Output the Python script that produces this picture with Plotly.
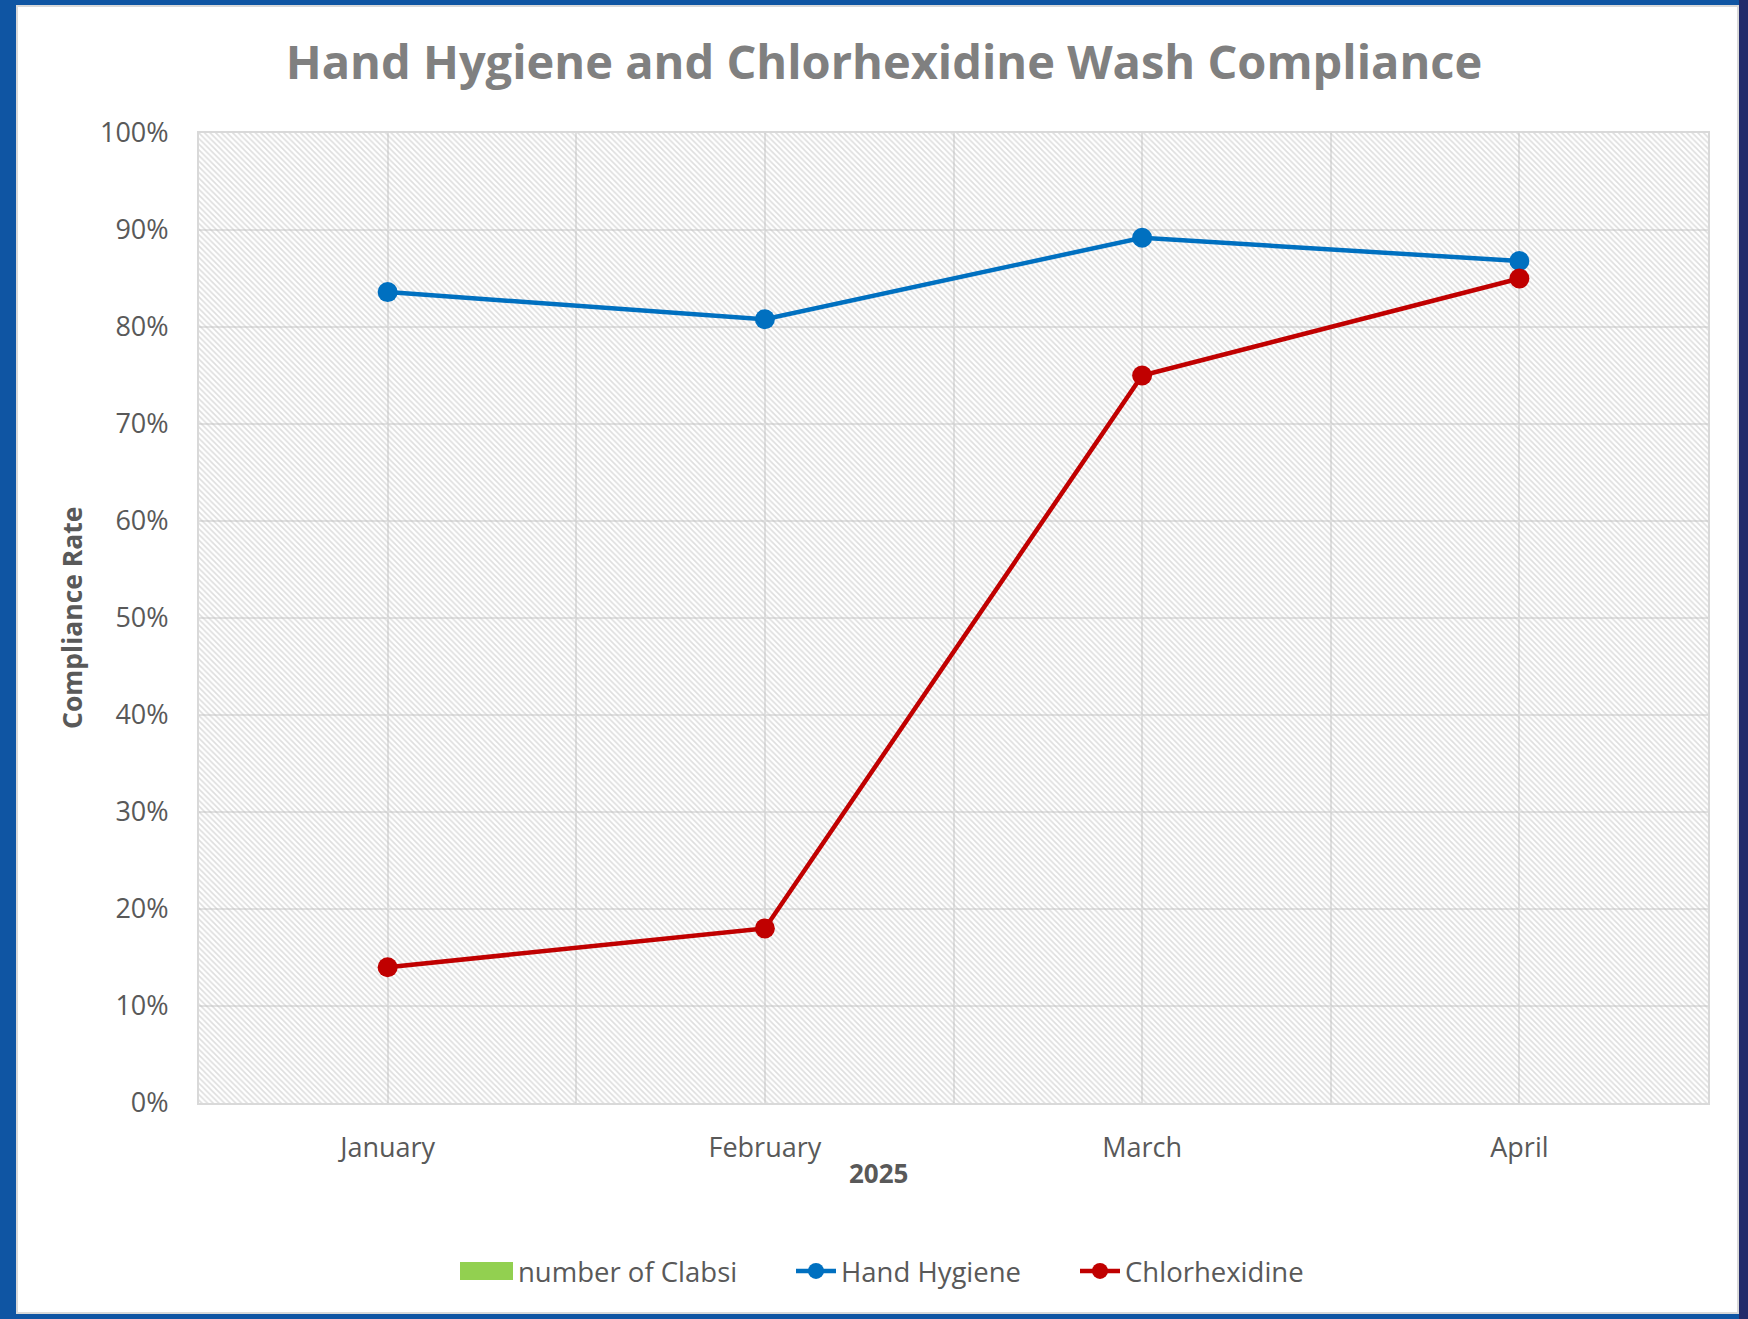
import plotly.graph_objects as go

# ---- data ----
months = ["January", "February", "March", "April"]
hand_hygiene = [0.836, 0.808, 0.892, 0.868]
chlorhexidine = [0.14, 0.18, 0.75, 0.85]
clabsi = [None, None, None, None]
y_ticks = [0, 0.1, 0.2, 0.3, 0.4, 0.5, 0.6, 0.7, 0.8, 0.9, 1.0]
y_tick_labels = ["0%", "10%", "20%", "30%", "40%", "50%", "60%", "70%", "80%", "90%", "100%"]

W, H = 1748, 1319
L, R, T, B = 199, 1748 - 1708, 133, 1319 - 1103
pw, ph = W - L - R, H - T - B

def px_x(p):
    return (p - L) / pw

def px_y(p):
    return (H - B - p) / ph

xpos = list(range(len(months)))
xr = [-0.5, len(months) - 0.5]

FONT = "Open Sans"
TXT = "#595959"
LEG_Y = px_y(1271)

fig = go.Figure()

# hatched plot-area background (decoration)
fig.add_trace(go.Scatter(
    x=[xr[0], xr[1], xr[1], xr[0]], y=[0, 0, 1, 1],
    fill="toself", mode="none", showlegend=False, hoverinfo="skip",
    fillcolor="rgba(0,0,0,0)",
    fillpattern=dict(shape="\\", fgcolor="#bdbdbd", bgcolor="rgba(0,0,0,0)",
                     size=4, solidity=0.4),
))

# bar series shown only in the legend (no visible values)
fig.add_trace(go.Bar(x=xpos, y=clabsi, name="number of Clabsi",
                     marker=dict(color="#92d050",
                                 line=dict(color="#92d050", width=0)),
                     legend="legend"))
fig.add_trace(go.Scatter(x=xpos, y=hand_hygiene, name="Hand Hygiene",
                         mode="lines+markers", legend="legend2",
                         line=dict(color="#0070c0", width=4.5),
                         marker=dict(color="#0070c0", size=20)))
fig.add_trace(go.Scatter(x=xpos, y=chlorhexidine, name="Chlorhexidine",
                         mode="lines+markers", legend="legend3",
                         line=dict(color="#c00000", width=4.5),
                         marker=dict(color="#c00000", size=20)))

shapes = [
    # white chart area over blue frame
    dict(type="rect", xref="paper", yref="paper", layer="below",
         x0=px_x(17), x1=px_x(1738), y0=px_y(1313), y1=px_y(6),
         fillcolor="white", line=dict(color="#d9d9d9", width=2)),
    # dark right edge of the frame
    dict(type="rect", xref="paper", yref="paper", layer="below",
         x0=px_x(1739), x1=px_x(1760), y0=px_y(1330), y1=px_y(-10),
         fillcolor="#232a6a", line=dict(width=0)),
    # wide legend key for the bar series
    dict(type="rect", xref="paper", yref="paper", layer="above",
         x0=px_x(460), x1=px_x(513), y0=px_y(1280), y1=px_y(1262),
         fillcolor="#92d050", line=dict(width=0)),
]

def leg(x_px):
    return dict(orientation="h", x=px_x(x_px), xanchor="left",
                y=LEG_Y, yanchor="middle",
                font=dict(family=FONT, size=27.5, color=TXT),
                bgcolor="rgba(0,0,0,0)", itemwidth=40)

fig.update_layout(
    width=W, height=H,
    margin=dict(l=L, r=R, t=T, b=B, pad=0),
    paper_bgcolor="#0f55a3",
    plot_bgcolor="rgba(0,0,0,0)",
    font=dict(family=FONT, color=TXT, size=27),
    title=dict(text="<b>Hand Hygiene and Chlorhexidine Wash Compliance</b>",
               x=884 / W, xanchor="center", y=1 - 63 / H, yanchor="middle",
               font=dict(family=FONT, size=47, color="#808080")),
    showlegend=True,
    legend=leg(468),
    legend2=leg(791),
    legend3=leg(1075),
    shapes=shapes,
    annotations=[
        dict(text="<b>Compliance Rate</b>", xref="paper", yref="paper",
             x=px_x(72), y=px_y(617), textangle=-90, showarrow=False,
             xanchor="center", yanchor="middle",
             font=dict(family=FONT, size=26.5, color=TXT)),
        dict(text="<b>2025</b>", xref="paper", yref="paper",
             x=px_x(878), y=px_y(1173), showarrow=False,
             xanchor="center", yanchor="middle",
             font=dict(family=FONT, size=26, color=TXT)),
    ],
)

fig.update_xaxes(
    range=xr, tickmode="array", tickvals=xpos, ticktext=months,
    showgrid=True, gridcolor="#e2e2e2", gridwidth=1.5,
    minor=dict(tickmode="linear", tick0=-0.5, dtick=1, showgrid=True,
               gridcolor="#e2e2e2", gridwidth=1.5),
    showline=True, mirror=True, linecolor="#d9d9d9", linewidth=2,
    ticks="", ticklabelstandoff=20, zeroline=False,
    tickfont=dict(family=FONT, size=27, color=TXT),
)
fig.update_yaxes(
    range=[0, 1], tickmode="array", tickvals=y_ticks, ticktext=y_tick_labels,
    showgrid=True, gridcolor="#e2e2e2", gridwidth=1.5,
    showline=True, mirror=True, linecolor="#d9d9d9", linewidth=2,
    ticks="", ticklabelstandoff=23, zeroline=False,
    tickfont=dict(family=FONT, size=27, color=TXT),
)

fig.write_html("out.html",
               config={"displayModeBar": False},
               post_script="document.body.style.margin='0';"
                           "document.body.style.overflow='hidden';")
